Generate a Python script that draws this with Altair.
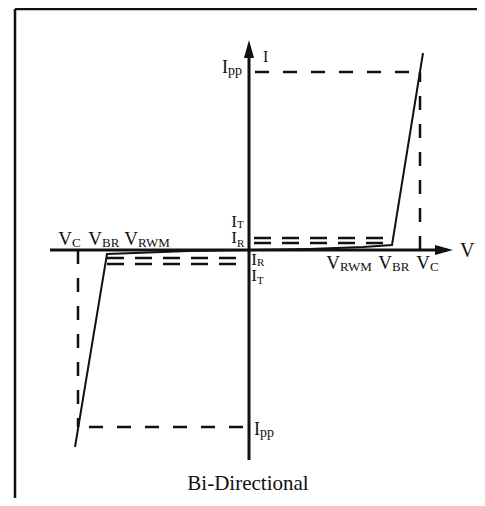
import altair as alt
import pandas as pd

# ---- characteristic values (chart units, origin at the axis crossing) ----
V_RWM, V_BR, V_C = 114, 143, 171          # positive side
V_RWM_N, V_BR_N, V_C_N = -114, -142, -171  # negative side
I_PP, I_T, I_R = 178, 12, 7
I_PP_N, I_T_N, I_R_N = -177, -14, -8

# I-V curve points
curve_pos_v = [0, 60, V_RWM, V_BR, 174]
curve_pos_i = [0, 1, 3, 5, 197]
curve_neg_v = [0, -60, V_RWM_N, V_BR_N, -174]
curve_neg_i = [0, -1, -3, -4, -197]

# axes extents
V_AXIS = [-199, 204]
I_AXIS = [-210, 210]
ARROW_LEN = 9

X_DOMAIN = [-241, 228]
Y_DOMAIN = [-248, 242]
W, H = 469, 490
FONT = "Liberation Serif"
INK = "#111111"


def X(f="x"):
    return alt.X(f"{f}:Q", scale=alt.Scale(domain=X_DOMAIN, nice=False, zero=False), axis=None)


def Y(f="y"):
    return alt.Y(f"{f}:Q", scale=alt.Scale(domain=Y_DOMAIN, nice=False, zero=False), axis=None)


# ---- frame (left and top edges) ----
frame = pd.DataFrame({
    "x": [-234, -234], "x2": [-234, X_DOMAIN[1]],
    "y": [Y_DOMAIN[0], 241], "y2": [241, 241],
})
frame_layer = alt.Chart(frame).mark_rule(color=INK, strokeWidth=2.5).encode(
    x=X(), x2="x2:Q", y=Y(), y2="y2:Q")

# ---- axes ----
axes = pd.DataFrame({
    "x": [V_AXIS[0], 0], "x2": [V_AXIS[1] - 6, 0],
    "y": [0, I_AXIS[0]], "y2": [0, I_AXIS[1] - 6],
})
axes_layer = alt.Chart(axes).mark_rule(color=INK, strokeWidth=3).encode(
    x=X(), x2="x2:Q", y=Y(), y2="y2:Q")

arrow_r = alt.Chart(pd.DataFrame({"x": [V_AXIS[1] - ARROW_LEN], "y": [0]})).mark_point(
    shape="M1,0L-1,0.56L-1,-0.56Z", size=324, filled=True, color=INK, opacity=1, strokeWidth=0
).encode(x=X(), y=Y())
arrow_u = alt.Chart(pd.DataFrame({"x": [0], "y": [I_AXIS[1] - ARROW_LEN]})).mark_point(
    shape="M0,-1L0.56,1L-0.56,1Z", size=324, filled=True, color=INK, opacity=1, strokeWidth=0
).encode(x=X(), y=Y())

# ---- long dashed guides (Ipp and Vc) ----
long_dash = pd.DataFrame({
    "x": [6, V_C, V_C_N, -6],
    "x2": [V_C, V_C, V_C_N, V_C_N],
    "y": [I_PP, 0, 0, I_PP_N],
    "y2": [I_PP, I_PP, I_PP_N, I_PP_N],
})
long_dash_layer = alt.Chart(long_dash).mark_rule(
    color=INK, strokeWidth=2.5, strokeDash=[14, 14]).encode(
    x=X(), x2="x2:Q", y=Y(), y2="y2:Q")

# ---- short dashed guides (It and Ir) ----
short_dash = pd.DataFrame({
    "x": [5, 5, V_BR_N, V_BR_N],
    "x2": [V_BR, V_BR, -5, -5],
    "y": [I_T, I_R, I_R_N, I_T_N],
})
short_dash_layer = alt.Chart(short_dash).mark_rule(
    color=INK, strokeWidth=2.5, strokeDash=[17, 11]).encode(
    x=X(), x2="x2:Q", y=Y(), y2=alt.Y2("y:Q"))

# ---- I-V curve ----
curve = pd.DataFrame({
    "x": curve_pos_v + curve_neg_v,
    "y": curve_pos_i + curve_neg_i,
    "side": ["pos"] * len(curve_pos_v) + ["neg"] * len(curve_neg_v),
    "idx": list(range(len(curve_pos_v))) + list(range(len(curve_neg_v))),
})
curve_layer = alt.Chart(curve).mark_line(color=INK, strokeWidth=2).encode(
    x=X(), y=Y(), detail="side:N", order="idx:Q")

# ---- labels: main letter (right-aligned) + subscript (left-aligned) ----
lab_main = ["V", "V", "V", "V", "V", "V", "I", "I", "I", "I", "I", "I"]
lab_sub = ["RWM", "BR", "C", "C", "BR", "RWM", "pp", "pp", "T", "R", "R", "T"]
lab_x = [V_RWM - 23, V_BR, V_C + 10, V_C_N - 6, V_BR_N - 5, V_RWM_N + 3,
         -21, 11, -12, -12, 8, 8]
lab_y = [-19, -19, -19, 5, 5, 5, 177, -185, 23, 7, -15, -31]
lab_sub_drop = [2, 2, 2, 2, 2, 2, 2, 2, 1, 4, 1, 3]
main_size = [19, 19, 19, 19, 19, 19, 18, 18, 17, 17, 17, 17]
sub_size = [13, 13, 13, 13, 13, 13, 14, 14, 11, 11, 11, 11]

labels = pd.DataFrame({
    "main": lab_main, "sub": lab_sub, "x": lab_x, "y": lab_y,
    "ys": [a - b for a, b in zip(lab_y, lab_sub_drop)],
    "ms": main_size, "ss": sub_size,
})
main_layer = alt.Chart(labels).mark_text(
    font=FONT, align="right", baseline="alphabetic", color=INK).encode(
    x=X(), y=Y(), text="main:N", size=alt.Size("ms:Q", scale=None, legend=None))
sub_layer = alt.Chart(labels).mark_text(
    font=FONT, align="left", baseline="alphabetic", color=INK).encode(
    x=X(), y=Y("ys"), text="sub:N", size=alt.Size("ss:Q", scale=None, legend=None))

# axis names and caption
names = pd.DataFrame({
    "t": ["V", "I", "Bi-Directional"],
    "x": [211, 14, -1],
    "y": [-7, 188, -240],
    "s": [20, 16, 21],
})
name_left = alt.Chart(names.iloc[:2]).mark_text(
    font=FONT, align="left", baseline="alphabetic", color=INK).encode(
    x=X(), y=Y(), text="t:N", size=alt.Size("s:Q", scale=None, legend=None))
caption = alt.Chart(names.iloc[2:]).mark_text(
    font=FONT, align="center", baseline="alphabetic", color=INK).encode(
    x=X(), y=Y(), text="t:N", size=alt.Size("s:Q", scale=None, legend=None))

chart = alt.layer(
    frame_layer, long_dash_layer, short_dash_layer, axes_layer, arrow_r, arrow_u,
    curve_layer, main_layer, sub_layer, name_left, caption,
).properties(
    width=W, height=H, autosize=alt.AutoSizeParams(type="none"), padding=0,
    background="white",
).configure_view(stroke=None)

chart.save("out.html", embed_options={"renderer": "svg", "actions": False})
